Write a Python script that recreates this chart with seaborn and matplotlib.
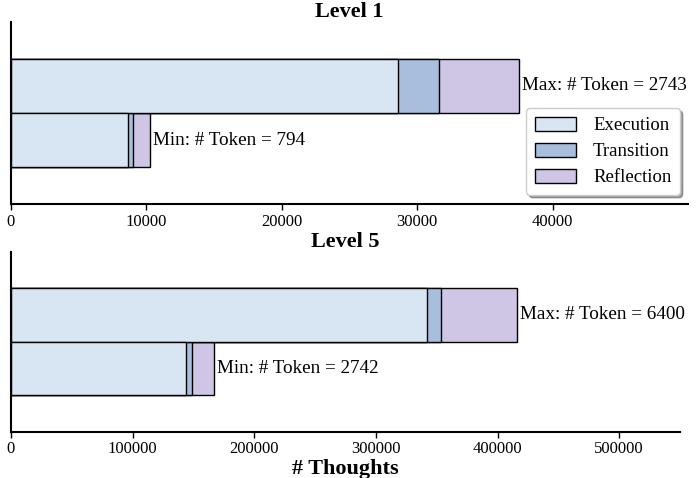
import numpy as np
import pandas as pd
import matplotlib
matplotlib.use("Agg")
import matplotlib.pyplot as plt
import seaborn as sns
from matplotlib.patches import Patch

# === Data ===
rows = ["Max", "Min"]
tokens_l1 = [2743, 794]
exec_l1 = [28570, 8630]
trans_l1 = [3010, 390]
refl_l1 = [5940, 1280]

tokens_l5 = [6400, 2742]
exec_l5 = [342100, 143800]
trans_l5 = [11600, 4600]
refl_l5 = [62500, 18400]

colors = {"Execution": "#d8e6f3", "Transition": "#a7bfdc", "Reflection": "#cfc5e4"}

sns.set_style("ticks")
plt.rcParams["font.family"] = ["Liberation Serif", "DejaVu Serif"]
plt.rcParams["text.color"] = "black"
plt.rcParams["axes.labelcolor"] = "black"
plt.rcParams["xtick.color"] = "black"

fig = plt.figure(figsize=(6.96, 4.78), dpi=100)
ax1 = fig.add_axes([0.0158, 0.5732, 0.9727, 0.3808])
ax2 = fig.add_axes([0.0158, 0.0969, 0.9612, 0.3766])


def draw_level(ax, ex, tr, rf, tok, title, xmax, ticks):
    df = pd.DataFrame({"row": rows, "ex": ex, "tr": tr, "rf": rf})
    df["c1"] = df["ex"]
    df["c2"] = df["ex"] + df["tr"]
    df["c3"] = df["c2"] + df["rf"]
    # largest first, then overlay the shorter cumulative bars
    for col, name in [("c3", "Reflection"), ("c2", "Transition"), ("c1", "Execution")]:
        sns.barplot(data=df, x=col, y="row", order=rows, orient="h", width=1.0,
                    color=colors[name], edgecolor="black", linewidth=1.0,
                    saturation=1, ax=ax)
    for i, r in df.iterrows():
        ax.annotate(f"{r['row']}: # Token = {tok[i]}", xy=(r["c3"], i),
                    xytext=(2, 0), textcoords="offset points",
                    va="center", ha="left", fontsize=13.8)
    ax.set_xlim(0, xmax)
    ax.set_ylim(2.185, -1.185)
    ax.set_xticks(ticks)
    ax.set_xticklabels([str(t) for t in ticks], fontsize=12)
    ax.set_yticks([])
    ax.set_ylabel("")
    ax.set_xlabel("")
    ax.set_title(title, fontsize=16, fontweight="bold", pad=3)
    for s in ["top", "right"]:
        ax.spines[s].set_visible(False)
    for s in ["left", "bottom"]:
        ax.spines[s].set_linewidth(1.5)
        ax.spines[s].set_color("black")
    ax.tick_params(axis="x", length=4, width=1, color="black", pad=3)


draw_level(ax1, exec_l1, trans_l1, refl_l1, tokens_l1, "Level 1", 50000,
           [0, 10000, 20000, 30000, 40000])
draw_level(ax2, exec_l5, trans_l5, refl_l5, tokens_l5, "Level 5", 550000,
           [0, 100000, 200000, 300000, 400000, 500000])
ax2.set_xlabel("# Thoughts", fontsize=16, fontweight="bold", labelpad=1.5)

handles = [Patch(facecolor=colors[k], edgecolor="black", label=k)
           for k in ["Execution", "Transition", "Reflection"]]
ax1.legend(handles=handles, loc="lower right", bbox_to_anchor=(0.988, 0.05),
           borderaxespad=0, fontsize=13.5, shadow=True, fancybox=True, framealpha=1,
           handlelength=2.2, handleheight=0.8, borderpad=0.45, labelspacing=0.45,
           handletextpad=0.9)

fig.savefig("out.png", dpi=100)
